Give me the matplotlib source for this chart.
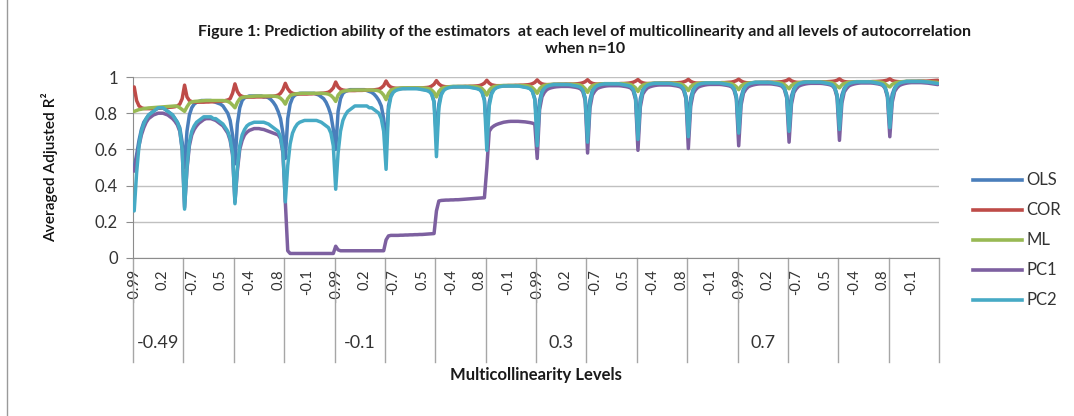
import matplotlib
matplotlib.use("Agg")
import matplotlib.pyplot as plt
import matplotlib.transforms as mtransforms
from matplotlib.lines import Line2D
import numpy as np

plt.rcParams['font.family'] = ['Lato', 'DejaVu Sans']

# ---------------- data ----------------
autocorr_levels = [-0.99, -0.9, -0.8, -0.7, -0.6, -0.5, -0.4, -0.3, -0.2, -0.1, 0,
                   0.1, 0.2, 0.3, 0.4, 0.5, 0.6, 0.7, 0.8, 0.9, 0.99]
multicol_levels = [-0.49, -0.4, -0.3, -0.2, -0.1, 0, 0.1, 0.2, 0.3, 0.4, 0.5, 0.6,
                   0.7, 0.8, 0.9, 0.99]
series_names = ["OLS", "COR", "ML", "PC1", "PC2"]

OLS = [
    [0.50,0.57,0.65,0.71,0.75,0.77,0.79,0.80,0.81,0.82,0.83,0.83,0.83,0.82,0.81,0.80,0.79,0.77,0.75,0.72,0.64],
    [0.50,0.70,0.79,0.83,0.85,0.86,0.865,0.87,0.87,0.87,0.87,0.87,0.865,0.86,0.855,0.85,0.84,0.82,0.80,0.76,0.68],
    [0.52,0.74,0.83,0.87,0.885,0.89,0.895,0.895,0.895,0.895,0.895,0.895,0.89,0.89,0.885,0.875,0.86,0.84,0.81,0.77,0.69],
    [0.55,0.77,0.85,0.885,0.90,0.905,0.91,0.91,0.91,0.91,0.91,0.91,0.91,0.905,0.90,0.89,0.88,0.86,0.83,0.79,0.71],
    [0.60,0.81,0.88,0.91,0.92,0.925,0.93,0.93,0.93,0.93,0.93,0.93,0.93,0.925,0.92,0.915,0.905,0.89,0.87,0.84,0.77],
    [0.60,0.84,0.90,0.92,0.93,0.935,0.937,0.938,0.938,0.938,0.938,0.938,0.938,0.937,0.935,0.933,0.93,0.927,0.922,0.908,0.865],
    [0.66,0.85,0.91,0.93,0.94,0.944,0.946,0.947,0.947,0.947,0.947,0.947,0.947,0.946,0.945,0.943,0.94,0.937,0.932,0.918,0.875],
    [0.69,0.86,0.915,0.935,0.944,0.948,0.95,0.952,0.952,0.952,0.952,0.952,0.952,0.951,0.95,0.948,0.945,0.942,0.937,0.923,0.88],
    [0.72,0.87,0.922,0.942,0.951,0.955,0.958,0.96,0.96,0.96,0.96,0.96,0.96,0.959,0.958,0.955,0.953,0.95,0.945,0.93,0.885],
    [0.74,0.875,0.926,0.946,0.955,0.959,0.962,0.963,0.963,0.963,0.963,0.963,0.963,0.962,0.961,0.959,0.957,0.954,0.949,0.934,0.89],
    [0.75,0.88,0.929,0.948,0.957,0.961,0.964,0.966,0.966,0.966,0.966,0.966,0.966,0.965,0.964,0.962,0.96,0.957,0.952,0.937,0.893],
    [0.77,0.885,0.931,0.95,0.959,0.963,0.966,0.968,0.968,0.968,0.968,0.968,0.968,0.967,0.966,0.964,0.962,0.959,0.954,0.939,0.895],
    [0.79,0.89,0.934,0.952,0.961,0.966,0.969,0.971,0.971,0.971,0.971,0.971,0.971,0.97,0.969,0.967,0.965,0.962,0.957,0.942,0.90],
    [0.80,0.895,0.936,0.954,0.963,0.968,0.971,0.973,0.973,0.973,0.973,0.973,0.973,0.972,0.971,0.969,0.967,0.964,0.959,0.944,0.90],
    [0.81,0.90,0.938,0.955,0.964,0.969,0.972,0.974,0.974,0.974,0.974,0.974,0.974,0.973,0.972,0.97,0.968,0.965,0.96,0.945,0.90],
    [0.82,0.905,0.94,0.957,0.966,0.971,0.974,0.976,0.976,0.976,0.976,0.976,0.976,0.976,0.975,0.974,0.973,0.972,0.97,0.968,0.966],
]

COR = [
    [0.945,0.87,0.84,0.83,0.826,0.825,0.825,0.825,0.825,0.826,0.827,0.828,0.83,0.831,0.832,0.833,0.834,0.836,0.84,0.85,0.88],
    [0.955,0.89,0.87,0.864,0.862,0.861,0.861,0.861,0.861,0.862,0.862,0.863,0.863,0.864,0.865,0.866,0.867,0.87,0.873,0.88,0.91],
    [0.962,0.92,0.90,0.893,0.89,0.889,0.889,0.889,0.889,0.89,0.89,0.89,0.89,0.891,0.892,0.893,0.894,0.896,0.90,0.91,0.93],
    [0.965,0.935,0.918,0.91,0.907,0.906,0.906,0.906,0.906,0.906,0.907,0.907,0.908,0.908,0.909,0.91,0.911,0.913,0.916,0.925,0.94],
    [0.972,0.945,0.933,0.928,0.926,0.925,0.925,0.925,0.925,0.926,0.926,0.926,0.927,0.927,0.928,0.928,0.929,0.931,0.933,0.94,0.952],
    [0.978,0.955,0.944,0.94,0.938,0.937,0.937,0.937,0.937,0.938,0.938,0.938,0.939,0.939,0.94,0.94,0.941,0.942,0.944,0.95,0.96],
    [0.98,0.962,0.952,0.948,0.946,0.946,0.946,0.946,0.946,0.947,0.947,0.947,0.948,0.948,0.949,0.949,0.95,0.951,0.953,0.958,0.966],
    [0.982,0.966,0.957,0.954,0.952,0.952,0.952,0.952,0.952,0.953,0.953,0.953,0.954,0.954,0.955,0.955,0.956,0.957,0.959,0.963,0.97],
    [0.984,0.97,0.962,0.959,0.958,0.958,0.958,0.958,0.958,0.959,0.959,0.959,0.96,0.96,0.961,0.961,0.962,0.963,0.965,0.968,0.974],
    [0.985,0.972,0.965,0.962,0.961,0.961,0.961,0.961,0.961,0.962,0.962,0.962,0.963,0.963,0.964,0.964,0.965,0.966,0.968,0.971,0.977],
    [0.986,0.974,0.968,0.965,0.964,0.964,0.964,0.964,0.964,0.965,0.965,0.965,0.966,0.966,0.967,0.967,0.968,0.969,0.97,0.973,0.978],
    [0.987,0.976,0.97,0.967,0.966,0.966,0.966,0.966,0.966,0.967,0.967,0.967,0.968,0.968,0.969,0.969,0.97,0.971,0.972,0.975,0.98],
    [0.988,0.978,0.972,0.969,0.968,0.968,0.968,0.968,0.968,0.969,0.969,0.969,0.97,0.97,0.971,0.971,0.972,0.973,0.974,0.977,0.981],
    [0.989,0.979,0.974,0.971,0.97,0.97,0.97,0.97,0.97,0.971,0.971,0.971,0.972,0.972,0.973,0.973,0.974,0.975,0.976,0.978,0.982],
    [0.99,0.98,0.975,0.973,0.972,0.972,0.972,0.972,0.972,0.973,0.973,0.973,0.974,0.974,0.975,0.975,0.976,0.977,0.978,0.98,0.983],
    [0.99,0.981,0.977,0.975,0.974,0.974,0.974,0.974,0.974,0.975,0.975,0.975,0.976,0.976,0.977,0.977,0.978,0.979,0.98,0.981,0.982],
]

ML = [
    [0.81,0.815,0.82,0.822,0.825,0.827,0.829,0.83,0.831,0.832,0.833,0.834,0.835,0.836,0.837,0.838,0.839,0.84,0.838,0.83,0.82],
    [0.81,0.835,0.855,0.862,0.865,0.866,0.867,0.868,0.869,0.87,0.87,0.87,0.87,0.87,0.87,0.87,0.87,0.868,0.865,0.858,0.845],
    [0.83,0.86,0.88,0.887,0.89,0.891,0.892,0.893,0.894,0.895,0.895,0.895,0.895,0.895,0.895,0.895,0.894,0.893,0.89,0.883,0.87],
    [0.85,0.88,0.897,0.903,0.906,0.908,0.909,0.91,0.91,0.91,0.91,0.91,0.91,0.91,0.91,0.91,0.909,0.908,0.905,0.898,0.885],
    [0.865,0.90,0.915,0.921,0.924,0.926,0.927,0.928,0.928,0.928,0.928,0.928,0.928,0.928,0.928,0.928,0.927,0.926,0.923,0.915,0.90],
    [0.875,0.91,0.927,0.933,0.936,0.938,0.939,0.94,0.94,0.94,0.94,0.94,0.94,0.94,0.94,0.94,0.939,0.938,0.935,0.928,0.915],
    [0.89,0.92,0.935,0.941,0.944,0.946,0.947,0.948,0.948,0.948,0.948,0.948,0.948,0.948,0.948,0.948,0.947,0.946,0.943,0.936,0.922],
    [0.90,0.927,0.941,0.947,0.95,0.951,0.952,0.953,0.953,0.953,0.953,0.953,0.953,0.953,0.953,0.953,0.952,0.951,0.948,0.941,0.928],
    [0.91,0.935,0.948,0.954,0.957,0.958,0.959,0.96,0.96,0.96,0.96,0.96,0.96,0.96,0.96,0.96,0.959,0.958,0.955,0.948,0.935],
    [0.915,0.94,0.952,0.957,0.96,0.961,0.962,0.963,0.963,0.963,0.963,0.963,0.963,0.963,0.963,0.963,0.962,0.961,0.958,0.951,0.94],
    [0.92,0.944,0.955,0.96,0.963,0.964,0.965,0.966,0.966,0.966,0.966,0.966,0.966,0.966,0.966,0.966,0.965,0.964,0.961,0.954,0.943],
    [0.925,0.947,0.957,0.962,0.965,0.966,0.967,0.968,0.968,0.968,0.968,0.968,0.968,0.968,0.968,0.968,0.967,0.966,0.963,0.957,0.946],
    [0.93,0.95,0.96,0.964,0.967,0.968,0.969,0.97,0.97,0.97,0.97,0.97,0.97,0.97,0.97,0.97,0.969,0.968,0.965,0.959,0.948],
    [0.935,0.953,0.962,0.966,0.969,0.97,0.971,0.972,0.972,0.972,0.972,0.972,0.972,0.972,0.972,0.972,0.971,0.97,0.967,0.961,0.95],
    [0.94,0.956,0.964,0.968,0.971,0.972,0.973,0.974,0.974,0.974,0.974,0.974,0.974,0.974,0.974,0.974,0.973,0.972,0.969,0.963,0.952],
    [0.945,0.959,0.966,0.97,0.973,0.974,0.975,0.976,0.976,0.976,0.976,0.976,0.976,0.976,0.976,0.975,0.974,0.973,0.972,0.971,0.97],
]

PC1 = [
    [0.48,0.55,0.62,0.68,0.72,0.75,0.77,0.78,0.79,0.795,0.80,0.80,0.80,0.795,0.79,0.78,0.77,0.755,0.735,0.70,0.60],
    [0.28,0.49,0.62,0.68,0.71,0.73,0.745,0.755,0.765,0.77,0.77,0.77,0.765,0.76,0.75,0.74,0.73,0.71,0.69,0.65,0.57],
    [0.31,0.48,0.60,0.65,0.68,0.695,0.705,0.71,0.715,0.715,0.715,0.712,0.71,0.705,0.70,0.695,0.69,0.685,0.68,0.66,0.58],
    [0.31,0.04,0.025,0.025,0.025,0.025,0.025,0.025,0.025,0.025,0.025,0.025,0.025,0.025,0.025,0.025,0.025,0.025,0.025,0.025,0.025],
    [0.065,0.045,0.04,0.04,0.04,0.04,0.04,0.04,0.04,0.04,0.04,0.04,0.04,0.04,0.04,0.04,0.04,0.04,0.04,0.04,0.04],
    [0.10,0.122,0.125,0.125,0.125,0.125,0.126,0.126,0.127,0.127,0.128,0.128,0.129,0.129,0.13,0.13,0.131,0.132,0.133,0.134,0.135],
    [0.26,0.315,0.318,0.319,0.32,0.32,0.321,0.321,0.322,0.322,0.323,0.324,0.325,0.326,0.327,0.328,0.329,0.33,0.331,0.332,0.333],
    [0.50,0.70,0.72,0.73,0.737,0.742,0.746,0.75,0.752,0.754,0.755,0.755,0.755,0.755,0.754,0.753,0.752,0.75,0.748,0.745,0.74],
    [0.55,0.82,0.89,0.915,0.93,0.937,0.941,0.944,0.946,0.947,0.948,0.948,0.948,0.948,0.947,0.945,0.943,0.94,0.935,0.92,0.87],
    [0.58,0.83,0.90,0.922,0.936,0.942,0.946,0.949,0.951,0.952,0.952,0.952,0.952,0.952,0.951,0.949,0.947,0.944,0.939,0.924,0.875],
    [0.595,0.835,0.905,0.926,0.94,0.946,0.95,0.953,0.955,0.956,0.956,0.956,0.956,0.956,0.955,0.953,0.951,0.948,0.943,0.927,0.88],
    [0.605,0.84,0.908,0.929,0.943,0.949,0.953,0.956,0.958,0.959,0.959,0.959,0.959,0.959,0.958,0.956,0.954,0.951,0.946,0.93,0.882],
    [0.62,0.845,0.911,0.932,0.946,0.952,0.956,0.959,0.961,0.962,0.962,0.962,0.962,0.962,0.961,0.959,0.957,0.954,0.949,0.933,0.885],
    [0.64,0.85,0.914,0.935,0.949,0.955,0.959,0.962,0.964,0.965,0.965,0.965,0.965,0.965,0.964,0.962,0.96,0.957,0.952,0.936,0.888],
    [0.65,0.855,0.917,0.937,0.951,0.957,0.961,0.964,0.966,0.967,0.967,0.967,0.967,0.967,0.966,0.964,0.962,0.959,0.954,0.938,0.89],
    [0.67,0.86,0.92,0.94,0.953,0.959,0.963,0.966,0.968,0.969,0.969,0.969,0.969,0.969,0.968,0.967,0.966,0.964,0.962,0.96,0.958],
]

PC2 = [
    [0.26,0.47,0.62,0.70,0.74,0.77,0.79,0.80,0.81,0.82,0.83,0.83,0.83,0.82,0.81,0.80,0.79,0.77,0.75,0.71,0.60],
    [0.27,0.50,0.64,0.70,0.73,0.75,0.76,0.77,0.78,0.78,0.78,0.78,0.77,0.77,0.76,0.75,0.74,0.72,0.70,0.66,0.58],
    [0.30,0.50,0.62,0.68,0.71,0.73,0.74,0.745,0.75,0.75,0.75,0.75,0.75,0.745,0.74,0.73,0.72,0.71,0.70,0.67,0.59],
    [0.31,0.51,0.63,0.69,0.72,0.74,0.75,0.755,0.76,0.76,0.76,0.76,0.76,0.76,0.755,0.75,0.74,0.73,0.72,0.69,0.62],
    [0.38,0.58,0.70,0.76,0.79,0.81,0.82,0.83,0.84,0.84,0.84,0.84,0.84,0.84,0.83,0.83,0.82,0.81,0.80,0.77,0.70],
    [0.49,0.82,0.89,0.915,0.925,0.93,0.933,0.935,0.935,0.935,0.935,0.935,0.935,0.935,0.933,0.93,0.928,0.925,0.92,0.905,0.86],
    [0.56,0.83,0.90,0.925,0.935,0.94,0.943,0.945,0.945,0.945,0.945,0.945,0.945,0.945,0.943,0.94,0.938,0.935,0.93,0.915,0.87],
    [0.595,0.84,0.905,0.93,0.94,0.945,0.948,0.95,0.95,0.95,0.95,0.95,0.95,0.95,0.948,0.945,0.943,0.94,0.935,0.92,0.875],
    [0.62,0.85,0.915,0.938,0.948,0.953,0.956,0.958,0.958,0.958,0.958,0.958,0.958,0.958,0.956,0.953,0.951,0.948,0.943,0.928,0.88],
    [0.64,0.855,0.92,0.942,0.952,0.957,0.96,0.962,0.962,0.962,0.962,0.962,0.962,0.962,0.96,0.957,0.955,0.952,0.947,0.932,0.885],
    [0.655,0.86,0.923,0.945,0.955,0.96,0.963,0.965,0.965,0.965,0.965,0.965,0.965,0.965,0.963,0.96,0.958,0.955,0.95,0.935,0.89],
    [0.67,0.865,0.925,0.947,0.957,0.962,0.965,0.967,0.967,0.967,0.967,0.967,0.967,0.967,0.965,0.962,0.96,0.957,0.952,0.937,0.892],
    [0.69,0.87,0.928,0.95,0.96,0.965,0.968,0.97,0.97,0.97,0.97,0.97,0.97,0.97,0.968,0.965,0.963,0.96,0.955,0.94,0.895],
    [0.70,0.875,0.93,0.952,0.962,0.967,0.97,0.972,0.972,0.972,0.972,0.972,0.972,0.972,0.97,0.967,0.965,0.962,0.957,0.942,0.90],
    [0.71,0.88,0.932,0.953,0.963,0.968,0.971,0.973,0.973,0.973,0.973,0.973,0.973,0.973,0.971,0.968,0.966,0.963,0.958,0.943,0.90],
    [0.72,0.885,0.935,0.955,0.965,0.97,0.973,0.975,0.975,0.975,0.975,0.975,0.975,0.975,0.974,0.973,0.972,0.97,0.968,0.966,0.964],
]

shown_group_every = 4
tick_label_every = 12

# ---------------- drawing ----------------
W, H = 1074, 416
fig = plt.figure(figsize=(W / 100, H / 100), dpi=100)
fig.patch.set_facecolor('white')

ax = fig.add_axes([133 / W, 1 - 258 / H, (939 - 133) / W, (258 - 77) / H])

colors = {"OLS": "#4a7ebb", "COR": "#be4b48", "ML": "#98b954",
          "PC1": "#7d60a0", "PC2": "#46aac5"}
data = {"OLS": OLS, "COR": COR, "ML": ML, "PC1": PC1, "PC2": PC2}

n_in = len(autocorr_levels)
n_out = len(multicol_levels)
x = np.arange(n_in * n_out)
for name in series_names:
    y = np.concatenate([np.asarray(r, dtype=float) for r in data[name]])
    ax.plot(x, y, color=colors[name], lw=2.5, solid_joinstyle='round',
            solid_capstyle='round', zorder=3)

ax.set_xlim(-0.5, n_in * n_out - 0.5)
ax.set_ylim(0, 1)
ax.set_yticks([0, 0.2, 0.4, 0.6, 0.8, 1])
ax.set_yticklabels(["0", "0.2", "0.4", "0.6", "0.8", "1"])
ax.grid(axis='y', color='#c0c0c0', lw=1, zorder=0)
ax.set_axisbelow(True)
for s in ['top', 'right']:
    ax.spines[s].set_visible(False)
ax.spines['left'].set_color('#8c8c8c')
ax.spines['bottom'].set_color('#8c8c8c')
ax.tick_params(axis='y', length=5, color='#8c8c8c', labelsize=12,
               labelcolor='#333333', pad=6)

ticks = list(range(0, n_in * n_out, tick_label_every))
ax.set_xticks(ticks)
ax.set_xticklabels([str(autocorr_levels[i % n_in]) for i in ticks],
                   rotation=90, fontsize=10.5, color='#333333')
ax.tick_params(axis='x', length=0, pad=8)

trans = mtransforms.blended_transform_factory(ax.transData, ax.transAxes)
for c in range(n_out + 1):
    xs = c * n_in - 0.5
    ax.plot([xs, xs], [0, -0.575], transform=trans, color='#a6a6a6',
            lw=1, clip_on=False, zorder=1)

for c in range(0, n_out, shown_group_every):
    ax.text(c * n_in + (n_in - 1) / 2, -0.47, str(multicol_levels[c]),
            transform=trans, ha='center', va='center', fontsize=13,
            color='#333333')

fig.text(536 / W, 1 - 375 / H, "Multicollinearity Levels", ha='center',
         va='center', fontsize=12, weight='bold', color='#1a1a1a')

fig.text(585 / W, 1 - 32 / H,
         "Figure 1: Prediction ability of the estimators  at each level of multicollinearity and all levels of autocorrelation",
         ha='center', va='center', fontsize=11.5, weight='bold', color='#1a1a1a')
fig.text(585 / W, 1 - 49 / H, "when n=10", ha='center', va='center',
         fontsize=11.5, weight='bold', color='#1a1a1a')

fig.text(50 / W, 1 - 167 / H, "Averaged Adjusted R²", rotation=90,
         ha='center', va='center', fontsize=11.2, weight='semibold',
         color='#111111')

for i, name in enumerate(series_names):
    yy = 1 - (180 + 30 * i) / H
    fig.add_artist(Line2D([973 / W, 1022 / W], [yy, yy], color=colors[name],
                          lw=2.6, transform=fig.transFigure))
    fig.text(1026 / W, yy, name, ha='left', va='center', fontsize=12,
             color='#333333')

fig.add_artist(Line2D([7 / W, 7 / W], [0, 1], color='#9a9a9a', lw=1,
                      transform=fig.transFigure))

fig.savefig("out.png", dpi=100)
